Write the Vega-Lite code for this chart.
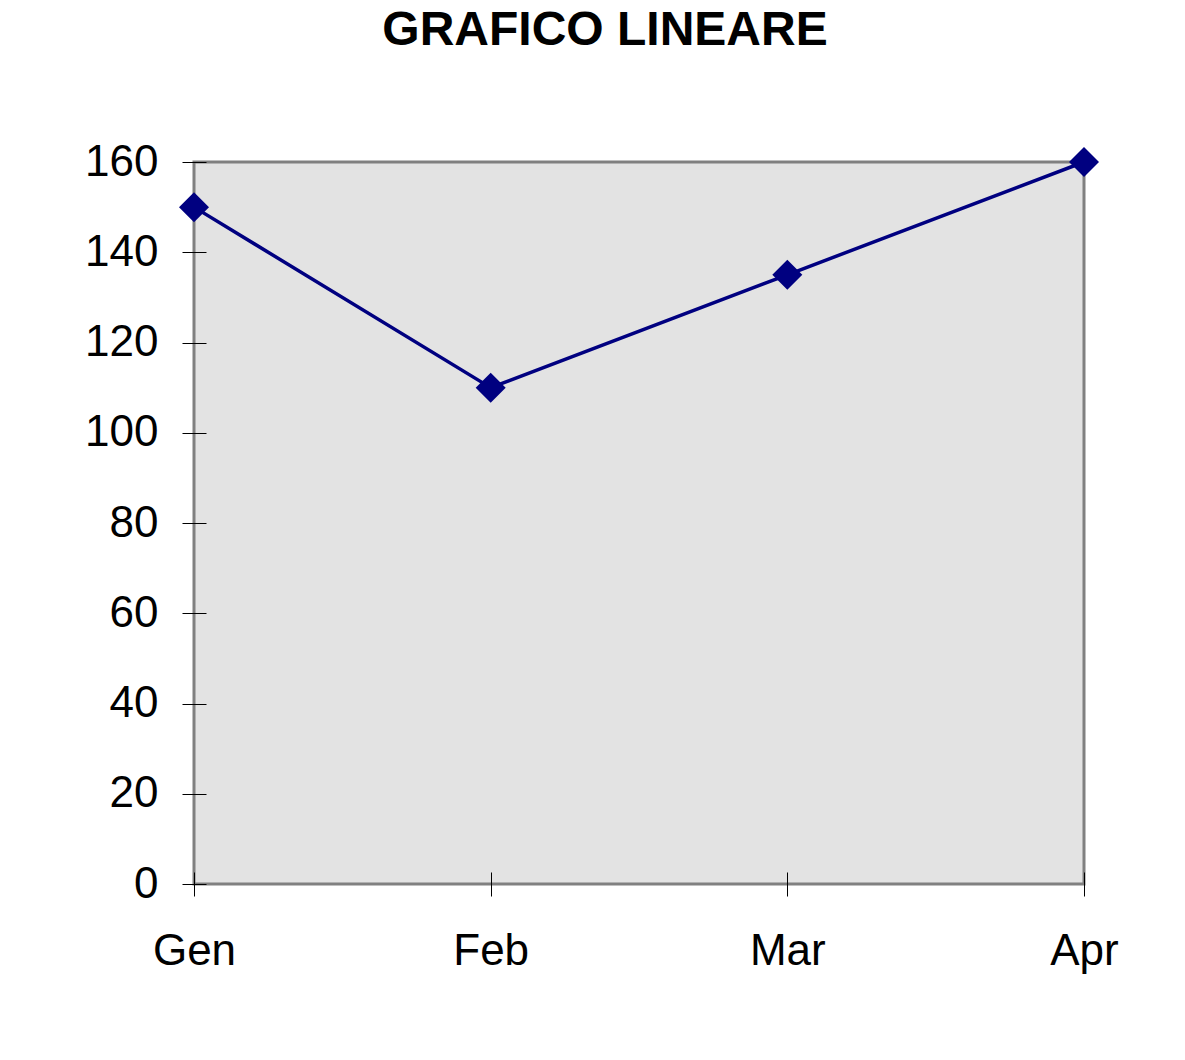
{
  "$schema": "https://vega.github.io/schema/vega-lite/v6.json",
  "width": 890,
  "height": 722,
  "autosize": {"type": "none"},
  "padding": {"left": 194, "top": 162, "right": 101, "bottom": 176},
  "background": "white",
  "title": {
    "text": "GRAFICO LINEARE",
    "font": "Liberation Sans",
    "fontSize": 48,
    "fontWeight": "bold",
    "color": "black",
    "anchor": "middle",
    "frame": "group",
    "offset": 85,
    "dx": -34
  },
  "data": {
    "values": [
      {"mese": "Gen", "valore": 150},
      {"mese": "Feb", "valore": 110},
      {"mese": "Mar", "valore": 135},
      {"mese": "Apr", "valore": 160}
    ]
  },
  "encoding": {
    "x": {
      "field": "mese",
      "type": "ordinal",
      "sort": null,
      "scale": {"padding": 0},
      "axis": {
        "title": null,
        "offset": -12,
        "tickSize": 24,
        "domain": false,
        "grid": false,
        "labelAngle": 0,
        "labelFont": "Liberation Sans",
        "labelFontSize": 44,
        "labelColor": "black",
        "tickColor": "black",
        "tickWidth": 1,
        "labelPadding": 33
      }
    },
    "y": {
      "field": "valore",
      "type": "quantitative",
      "scale": {"domain": [0, 160], "nice": false},
      "axis": {
        "title": null,
        "offset": -12,
        "tickSize": 24,
        "domain": false,
        "grid": false,
        "values": [0, 20, 40, 60, 80, 100, 120, 140, 160],
        "labelFont": "Liberation Sans",
        "labelFontSize": 44,
        "labelColor": "black",
        "tickColor": "black",
        "tickWidth": 1,
        "labelPadding": 24
      }
    }
  },
  "layer": [
    {"mark": {"type": "line", "color": "#000080", "strokeWidth": 3.5}},
    {"mark": {"type": "point", "shape": "diamond", "filled": true, "size": 900, "color": "#000080", "opacity": 1}}
  ],
  "config": {
    "view": {"fill": "#E3E3E3", "stroke": "#808080", "strokeWidth": 3}
  }
}
